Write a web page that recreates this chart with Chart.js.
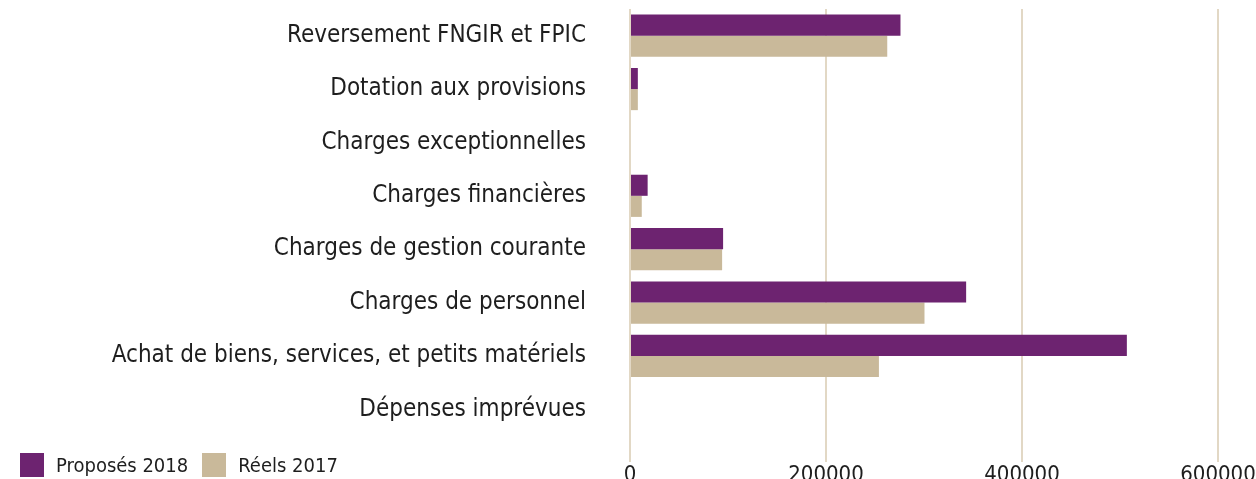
<!DOCTYPE html>
<html lang="fr">
<head>
  <meta charset="UTF-8">
  <title>Dépenses de fonctionnement</title>
  <script src="https://cdn.jsdelivr.net/npm/chart.js"></script>
  <style>
    html, body {
      margin: 0;
      padding: 0;
      overflow: hidden;
      background: #fff;
    }
    #wrap {
      position: relative;
      width: 1256px;
      height: 490px;
    }
    #legend {
      position: absolute;
      left: 20px;
      top: 453px;
      height: 24px;
      font-family: 'Liberation Sans Narrow', 'DejaVu Sans Condensed', sans-serif;
      font-size: 20px;
      color: #1e1e1e;
      display: flex;
      align-items: center;
    }
    #legend span.box {
      display: inline-block;
      width: 24px;
      height: 24px;
      margin-right: 12px;
    }
    #legend span.txt {
      margin-right: 14px;
    }
  </style>
</head>
<body>
  <div id="wrap">
    <canvas id="chart" width="1256" height="490"></canvas>
    <div id="legend"></div>
  </div>

  <script>
    const categories = [
      'Reversement FNGIR et FPIC',
      'Dotation aux provisions',
      'Charges exceptionnelles',
      'Charges financières',
      'Charges de gestion courante',
      'Charges de personnel',
      'Achat de biens, services, et petits matériels',
      'Dépenses imprévues'
    ];
    const proposes2018 = [276000, 8000, 0, 18000, 95000, 343000, 507000, 0];
    const reels2017 = [262500, 8000, 0, 12000, 94000, 300500, 254000, 0];
    const xTicks = [0, 200000, 400000, 600000];

    const purple = '#6d2370';
    const tan = '#c9b99a';
    const font = "'Liberation Sans Narrow', 'DejaVu Sans Condensed', sans-serif";

    const datasets = [
      { label: 'Proposés 2018', data: proposes2018, backgroundColor: purple },
      { label: 'Réels 2017', data: reels2017, backgroundColor: tan }
    ];

    // legend sits on the same row as the x ticks, so it is plain html
    const legend = document.getElementById('legend');
    datasets.forEach(ds => {
      legend.innerHTML += `<span class="box" style="background:${ds.backgroundColor}"></span><span class="txt">${ds.label}</span>`;
    });

    const ctx = document.getElementById('chart').getContext('2d');
    new Chart(ctx, {
      type: 'bar',
      data: {
        labels: categories,
        datasets: datasets.map(ds => ({
          ...ds,
          barPercentage: 1,
          categoryPercentage: 0.79
        }))
      },
      options: {
        indexAxis: 'y',
        responsive: false,
        animation: false,
        layout: {
          padding: { top: 9, right: 38, bottom: 0, left: 0 }
        },
        plugins: {
          legend: { display: false },
          tooltip: { enabled: false }
        },
        scales: {
          x: {
            min: 0,
            max: 600000,
            afterBuildTicks: scale => {
              scale.ticks = xTicks.map(v => ({ value: v }));
            },
            afterFit: scale => { scale.height = 54; },
            grid: {
              color: '#e2d8c5',
              lineWidth: 2,
              drawTicks: true,
              tickLength: 26,
              tickColor: '#e2d8c5'
            },
            border: { display: false },
            ticks: {
              color: '#1e1e1e',
              padding: 0,
              maxRotation: 0,
              font: { family: font, size: 22 },
              callback: v => String(v)
            }
          },
          y: {
            // fixed label column; drop the extra top/bottom room the labels ask for
            afterFit: scale => {
              scale.width = 630;
              scale.paddingTop = 0;
              scale.paddingBottom = 0;
            },
            grid: { display: false, drawTicks: false },
            border: { display: false },
            ticks: {
              color: '#1e1e1e',
              padding: 44,
              font: { family: font, size: 24 }
            }
          }
        }
      }
    });
  </script>
</body>
</html>
